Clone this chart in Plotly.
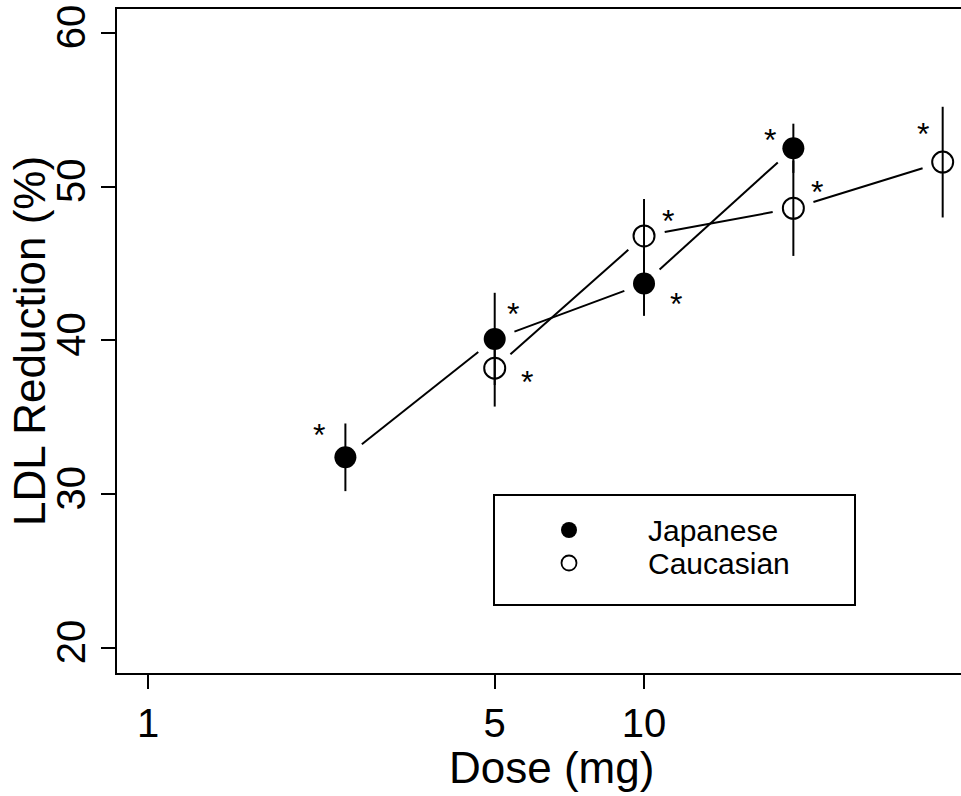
import math
import plotly.graph_objects as go

# ---------------- data ----------------
japanese_dose = [2.5, 5, 10, 20]
japanese_ldl = [32.4, 40.1, 43.7, 52.5]
japanese_err = [2.2, 3.0, 2.1, 1.6]

caucasian_dose = [5, 10, 20, 40]
caucasian_ldl = [38.2, 46.8, 48.6, 51.6]
caucasian_err = [2.5, 2.4, 3.1, 3.6]

x_tick_vals = [1, 5, 10]
x_tick_text = ["1", "5", "10"]
y_tick_vals = [20, 30, 40, 50, 60]
y_tick_text = ["20", "30", "40", "50", "60"]

series_names = ["Japanese", "Caucasian"]
x_title = "Dose (mg)"
y_title = "LDL Reduction (%)"

# asterisk offsets (pixels, right / down) relative to each point
japanese_star_off = [(-26, -28), (18, -31), (32, 14), (-23, -14)]
caucasian_star_off = [(32, 8), (24, -21), (24, -22), (-20, -34)]

# ---------------- layout geometry ----------------
W, H = 961, 796
ML, MR, MT, MB = 117, 0, 9, 123
PW, PH = W - ML - MR, H - MT - MB
XR = [-0.0625, 1.639]          # log10 range
YR = [18.37, 61.56]
GAP = 21                        # px gap between line ends and markers
FONT = "Liberation Sans, Arial, Helvetica, sans-serif"


def to_px(x, y):
    px = (math.log10(x) - XR[0]) / (XR[1] - XR[0]) * PW
    py = (YR[1] - y) / (YR[1] - YR[0]) * PH
    return px, py


def from_px(px, py):
    x = 10 ** (XR[0] + px / PW * (XR[1] - XR[0]))
    y = YR[1] - py / PH * (YR[1] - YR[0])
    return x, y


def gapped_segments(xs, ys):
    sx, sy = [], []
    for i in range(len(xs) - 1):
        p0 = to_px(xs[i], ys[i])
        p1 = to_px(xs[i + 1], ys[i + 1])
        dx, dy = p1[0] - p0[0], p1[1] - p0[1]
        d = math.hypot(dx, dy)
        ux, uy = dx / d, dy / d
        a = from_px(p0[0] + ux * GAP, p0[1] + uy * GAP)
        b = from_px(p1[0] - ux * GAP, p1[1] - uy * GAP)
        sx += [a[0], b[0], None]
        sy += [a[1], b[1], None]
    return sx, sy


fig = go.Figure()

for xs, ys in [(japanese_dose, japanese_ldl), (caucasian_dose, caucasian_ldl)]:
    sx, sy = gapped_segments(xs, ys)
    fig.add_trace(go.Scatter(x=sx, y=sy, mode="lines",
                             line=dict(color="black", width=2),
                             showlegend=False, hoverinfo="skip"))

fig.add_trace(go.Scatter(
    x=japanese_dose, y=japanese_ldl, mode="markers", name=series_names[0],
    marker=dict(symbol="circle", size=22, color="black"),
    error_y=dict(type="data", array=japanese_err, width=0, thickness=2, color="black"),
    showlegend=False))
fig.add_trace(go.Scatter(
    x=caucasian_dose, y=caucasian_ldl, mode="markers", name=series_names[1],
    marker=dict(symbol="circle-open", size=21, color="black", line=dict(width=2, color="black")),
    error_y=dict(type="data", array=caucasian_err, width=0, thickness=2, color="black"),
    showlegend=False))

annotations = []
for xs, ys, offs in [(japanese_dose, japanese_ldl, japanese_star_off),
                     (caucasian_dose, caucasian_ldl, caucasian_star_off)]:
    for x, y, (ox, oy) in zip(xs, ys, offs):
        annotations.append(dict(x=math.log10(x), y=y, xref="x", yref="y", text="*",
                                showarrow=False, xshift=ox, yshift=-(oy + 6),
                                font=dict(family=FONT, size=32, color="black")))

# axis titles as annotations for precise placement
annotations.append(dict(x=0, y=0.5, xref="paper", yref="paper", text=y_title,
                        textangle=-90, showarrow=False, xanchor="center", yanchor="middle",
                        xshift=-88, font=dict(family=FONT, size=44, color="black")))
annotations.append(dict(x=0.5, y=0, xref="paper", yref="paper", text=x_title,
                        showarrow=False, xanchor="center", yanchor="middle",
                        xshift=12, yshift=-94, font=dict(family=FONT, size=44, color="black")))

# ---- manual legend (box, symbols, text) ----
leg_x0, leg_x1 = (494 - ML) / PW, (855 - ML) / PW
leg_y0, leg_y1 = 1 - (605 - MT) / PH, 1 - (495 - MT) / PH
sym_x = (569 - ML) / PW
txt_x = (646 - ML) / PW
row_y = [1 - (530 - MT) / PH, 1 - (563 - MT) / PH]

fig.add_trace(go.Scatter(x=[sym_x], y=[row_y[0]], xaxis="x2", yaxis="y2", mode="markers",
                         marker=dict(symbol="circle", size=16, color="black"),
                         showlegend=False, hoverinfo="skip"))
fig.add_trace(go.Scatter(x=[sym_x], y=[row_y[1]], xaxis="x2", yaxis="y2", mode="markers",
                         marker=dict(symbol="circle-open", size=15, color="black",
                                     line=dict(width=1.8, color="black")),
                         showlegend=False, hoverinfo="skip"))
for name, ry in zip(series_names, row_y):
    annotations.append(dict(x=txt_x, y=ry, xref="paper", yref="paper", text=name,
                            showarrow=False, xanchor="left", yanchor="middle",
                            font=dict(family=FONT, size=30, color="black")))

shapes = [dict(type="rect", xref="paper", yref="paper", x0=leg_x0, x1=leg_x1,
               y0=leg_y0, y1=leg_y1, line=dict(color="black", width=2), fillcolor="rgba(0,0,0,0)")]

fig.update_layout(
    width=W, height=H, autosize=False,
    margin=dict(l=ML, r=MR, t=MT, b=MB, pad=0),
    paper_bgcolor="white", plot_bgcolor="white",
    font=dict(family=FONT, color="black"),
    showlegend=False,
    annotations=annotations, shapes=shapes,
    xaxis=dict(type="log", range=XR, tickvals=x_tick_vals, ticktext=x_tick_text,
               ticks="outside", ticklen=14, tickwidth=1.5, tickcolor="black",
               showline=True, linewidth=2, linecolor="black", mirror=True,
               showgrid=False, zeroline=False, automargin=False,
               tickfont=dict(size=40, family=FONT)),
    yaxis=dict(range=YR, tickvals=y_tick_vals, ticktext=y_tick_text, tickangle=-90,
               ticks="outside", ticklen=14, tickwidth=1.5, tickcolor="black",
               showline=True, linewidth=2, linecolor="black", mirror=False,
               showgrid=False, zeroline=False, automargin=False,
               tickfont=dict(size=40, family=FONT)),
    xaxis2=dict(overlaying="x", range=[0, 1], visible=False, fixedrange=True),
    yaxis2=dict(overlaying="y", range=[0, 1], visible=False, fixedrange=True),
)

fig.write_html("out.html", config={"displayModeBar": False},
               post_script="document.body.style.margin='0';")
